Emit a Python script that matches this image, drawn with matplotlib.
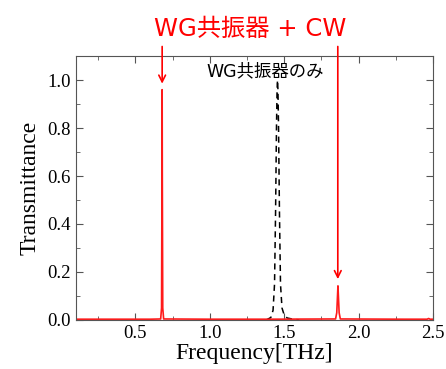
import matplotlib
matplotlib.use("Agg")
import matplotlib.pyplot as plt
from matplotlib.ticker import MultipleLocator

# Red curve: WG resonator + CW
red_x = [0.10, 0.60, 0.670, 0.676, 0.679, 0.680, 0.681, 0.684, 0.690, 1.00, 1.40,
         1.845, 1.853, 1.858, 1.861, 1.864, 1.869, 1.877, 2.30, 2.46, 2.47, 2.48, 2.50]
red_y = [0.003, 0.003, 0.004, 0.05, 0.61, 0.96, 0.61, 0.05, 0.004, 0.003, 0.003,
         0.004, 0.03, 0.10, 0.142, 0.10, 0.03, 0.004, 0.003, 0.003, 0.006, 0.003, 0.003]

# Black dashed curve: WG resonator only
blk_x = [1.38, 1.41, 1.425, 1.435, 1.442, 1.448, 1.452, 1.455, 1.458, 1.462, 1.468,
         1.475, 1.485, 1.50, 1.52, 1.56, 1.60]
blk_y = [0.0, 0.01, 0.04, 0.15, 0.45, 0.80, 0.96, 1.00, 0.96, 0.80, 0.45,
         0.15, 0.05, 0.02, 0.008, 0.003, 0.0]

xticks = [0.5, 1.0, 1.5, 2.0, 2.5]
yticks = [0.0, 0.2, 0.4, 0.6, 0.8, 1.0]

title_text = "WG共振器 + CW"
inner_text = "WG共振器のみ"
peaks = [(0.68, 0.985), (1.86, 0.17)]

fam = ["DejaVu Sans", "Noto Sans CJK JP"]

fig = plt.figure(figsize=(4.46, 3.69), dpi=100)
ax = fig.add_axes([0.170, 0.133, 0.801, 0.715])

ax.plot(blk_x, blk_y, color="black", lw=1.1, ls=(0, (4, 3)))
ax.plot(red_x, red_y, color="#ff1a1a", lw=1.2)

ax.set_xlim(0.1, 2.5)
ax.set_ylim(0.0, 1.1)
ax.set_xticks(xticks)
ax.set_yticks(yticks)
ax.xaxis.set_minor_locator(MultipleLocator(0.25))
ax.yaxis.set_minor_locator(MultipleLocator(0.1))
ax.tick_params(which="both", direction="in", top=True, right=True, color="#555555")
ax.tick_params(which="major", length=5)
ax.tick_params(which="minor", length=3)
for lab in ax.get_xticklabels() + ax.get_yticklabels():
    lab.set_family("Liberation Serif")
    lab.set_fontsize(13.5)
for s in ax.spines.values():
    s.set_color("#555555")

ax.set_xlabel("Frequency[THz]", family="Liberation Serif", fontsize=17, labelpad=1)
ax.set_ylabel("Transmittance", family="Liberation Serif", fontsize=17, labelpad=5)

ax.text(1.375, 1.035, inner_text, family=fam,
        fontsize=12.5, ha="center", va="center", color="black")

fig.text(0.56, 0.922, title_text, family=fam,
         fontsize=17.5, ha="center", va="center", color="#ff0000")

for px, py in peaks:
    ax.annotate("", xy=(px, py), xytext=(px, 1.14), annotation_clip=False,
                arrowprops=dict(arrowstyle="->", color="#ff0000", lw=1.2,
                                shrinkA=0, shrinkB=0, mutation_scale=12))

fig.savefig("out.png", dpi=100)
